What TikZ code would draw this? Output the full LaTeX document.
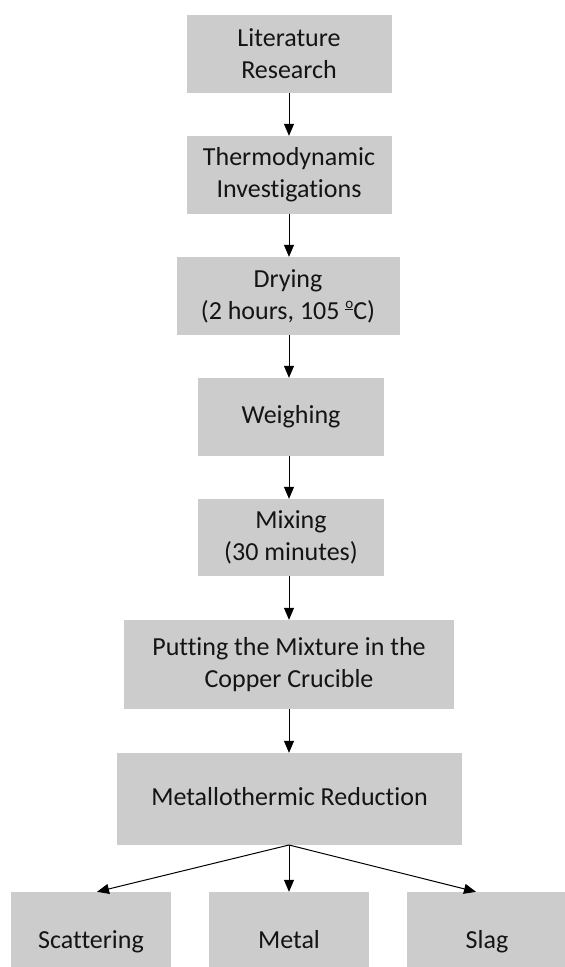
\documentclass[tikz,border=0pt]{standalone}
\usepackage{fontspec}
\setmainfont[Ligatures=NoCommon]{Carlito}
\usetikzlibrary{arrows.meta}
\definecolor{boxgray}{RGB}{204,204,204}
\definecolor{txt}{RGB}{20,20,20}
\newcommand{\ordo}{\raisebox{0.42em}{\underline{\smash{\fontsize{15}{15}\selectfont o}}}}
\tikzset{
  stepbox/.style={fill=boxgray, draw=none, align=center, inner sep=0pt,
    text=txt, font=\fontsize{26}{32}\selectfont},
  onebox/.style={stepbox, text height=18pt, text depth=6pt},
  conn/.style={draw=black, line width=1pt, -{Triangle[length=12pt,width=10pt]}}
}
\begin{document}
\begin{tikzpicture}[x=1pt,y=-1pt]
\useasboundingbox (0,0) rectangle (565,967);
\clip (0,0) rectangle (565,967);
\node[stepbox, minimum width=205pt, minimum height=78pt] (b1) at (289,54) {Literature\\Research};
\node[stepbox, minimum width=205pt, minimum height=78pt] (b2) at (289,175) {Thermodynamic\\Investigations};
\node[stepbox, minimum width=223pt, minimum height=78pt] (b3) at (288,296) {Drying\\(2 hours, 105 \ordo C)};
\node[onebox, minimum width=186pt, minimum height=78pt] (b4) at (291,417) {Weighing};
\node[stepbox, minimum width=186pt, minimum height=77pt] (b5) at (291,537.5) {Mixing\\(30 minutes)};
\node[stepbox, minimum width=330pt, minimum height=89pt] (b6) at (289,664.5) {Putting the Mixture in the\\Copper Crucible};
\node[onebox, minimum width=345pt, minimum height=92pt] (b7) at (289.5,799) {Metallothermic Reduction};
\node[onebox, minimum width=160pt, minimum height=100pt] (sc) at (91,942) {Scattering};
\node[onebox, minimum width=160pt, minimum height=100pt] (me) at (289,942) {Metal};
\node[onebox, minimum width=160pt, minimum height=100pt] (sl) at (487,942) {Slag};
\coordinate (t1) at (289,93);
\draw[conn] (t1) -- (b2.north -| t1);
\coordinate (t2) at (289,213.7);
\draw[conn] (t2) -- (b3.north -| t2);
\coordinate (t3) at (289,335);
\draw[conn] (t3) -- (b4.north -| t3);
\coordinate (t4) at (289,456);
\draw[conn] (t4) -- (b5.north -| t4);
\coordinate (t5) at (289,576);
\draw[conn] (t5) -- (b6.north -| t5);
\coordinate (t6) at (289,709);
\draw[conn] (t6) -- (b7.north -| t6);
\coordinate (t7) at (289,845);
\draw[conn] (t7) -- ([xshift=6pt]sc.north);
\draw[conn] (t7) -- (me.north -| t7);
\draw[conn] (t7) -- ([xshift=-11pt]sl.north);
\end{tikzpicture}
\end{document}
